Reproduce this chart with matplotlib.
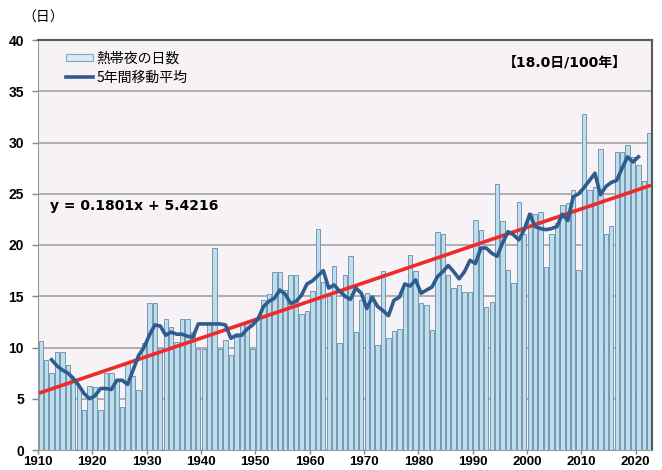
import matplotlib
matplotlib.use("Agg")
import matplotlib.pyplot as plt
import numpy as np
from matplotlib.patches import Patch
from matplotlib.lines import Line2D

years = list(range(1910, 2023))
nights = [10.6, 8.8, 7.5, 9.6, 9.6, 8.3, 6.9, 6.1, 3.9, 6.2,
          6.1, 3.9, 7.5, 7.5, 6.9, 4.2, 8.5, 7.2, 5.9, 10.4,
          14.3, 14.3, 10.0, 12.8, 12.0, 10.5, 12.8, 12.8, 11.5, 9.9,
          9.9, 12.4, 19.7, 9.9, 10.7, 9.3, 11.0, 12.3, 12.5, 9.9,
          12.7, 14.6, 15.2, 17.4, 17.4, 15.6, 17.1, 17.1, 13.3, 13.6,
          15.5, 21.6, 16.4, 15.0, 18.0, 10.4, 17.1, 18.9, 11.5, 14.6,
          15.3, 15.1, 10.2, 17.5, 10.9, 11.6, 11.8, 16.2, 19.0, 17.5,
          14.3, 14.1, 11.7, 21.3, 21.1, 17.1, 15.8, 16.1, 15.4, 15.4,
          22.4, 21.5, 14.0, 14.4, 26.0, 22.3, 17.6, 16.3, 24.2, 21.1,
          23.1, 23.0, 23.2, 17.9, 21.1, 22.1, 23.9, 24.1, 25.4, 17.6,
          32.8, 25.4, 25.7, 29.4, 21.1, 21.9, 29.1, 29.1, 29.8, 28.6,
          27.8, 26.2, 30.9]

ma_years = list(range(1912, 2021))
ma_values = [8.8, 8.2, 7.8, 7.5, 7.0, 6.3, 5.5, 5.0,
             5.3, 6.0, 6.0, 5.9, 6.8, 6.8, 6.4, 7.8, 9.2, 10.0,
             11.2, 12.2, 12.1, 11.2, 11.5, 11.3, 11.3, 11.1, 11.0, 12.3,
             12.3, 12.3, 12.3, 12.3, 12.2, 10.9, 11.2, 11.2, 11.8, 12.2,
             12.8, 14.0, 14.5, 14.8, 15.6, 15.2, 14.3, 14.5, 15.1, 16.2,
             16.5, 17.0, 17.5, 15.8, 16.1, 15.5, 15.0, 14.7, 15.8, 15.3,
             13.8, 14.9, 14.0, 13.6, 13.1, 14.6, 14.9, 16.2, 16.0, 16.6,
             15.3, 15.6, 15.9, 16.9, 17.4, 18.0, 17.4, 16.7, 17.4, 18.5,
             18.2, 19.7, 19.7, 19.2, 18.9, 20.2, 21.3, 21.0, 20.5, 21.5,
             23.0, 21.8, 21.6, 21.5, 21.6, 21.8, 23.0, 22.4, 24.7, 25.0,
             25.6, 26.3, 27.0, 24.9, 25.7, 26.1, 26.3, 27.5, 28.6, 28.1,
             28.6]

trend_slope = 0.1801
trend_intercept = 5.4216
trend_label = "y = 0.1801x + 5.4216"
rate_label = "【18.0日/100年】"
bar_label = "熱帯夜の日数"
ma_label = "5年間移動平均"
unit_label = "（日）"
xticks = list(range(1910, 2021, 10))
yticks = list(range(0, 41, 5))

assert len(nights) == len(years)
assert len(ma_values) == len(ma_years)

plt.rcParams['font.family'] = ['Liberation Sans', 'Noto Sans CJK JP', 'DejaVu Sans']

fig = plt.figure(figsize=(6.62, 4.70), dpi=100)
ax = fig.add_axes([38/662, 20/470, (652-38)/662, 410/470])
ax.set_facecolor('#f6f2f6')

xs = np.array(years) + 0.5
ax.bar(xs, nights, width=0.8, color='#bcdeef', edgecolor='#7898b0',
       linewidth=0.7, zorder=2)

ax.plot(np.array(ma_years) + 0.5, ma_values, color='#2f5b8e', lw=2.6,
        zorder=4, solid_joinstyle='round')

tx = np.array([years[0], years[-1]])
tt = trend_slope * (tx - years[0] + 1) + trend_intercept
ax.plot(tx + 0.5, tt, color='#ee2a2a', lw=2.6, zorder=3)

ax.set_xlim(1910, 2023)
ax.set_ylim(0, 40)
ax.set_yticks(yticks)
ax.set_xticks(xticks)
ax.grid(axis='y', color='#a8a8a8', lw=1.3, zorder=1)
ax.set_axisbelow(True)

for lab in ax.get_yticklabels():
    lab.set_fontweight('bold')
    lab.set_fontsize(10)
for lab in ax.get_xticklabels():
    lab.set_fontweight('bold')
    lab.set_fontsize(9.5)
ax.tick_params(axis='both', colors='#888888', labelcolor='black', length=4, width=1)
ax.tick_params(axis='y', pad=6)
ax.tick_params(axis='x', pad=1.5, length=3)

ax.spines['top'].set_color('#5a5a5a')
ax.spines['right'].set_color('#5a5a5a')
ax.spines['top'].set_linewidth(1.5)
ax.spines['right'].set_linewidth(1.5)
ax.spines['left'].set_color('#999999')
ax.spines['bottom'].set_color('#999999')

fig.text(22/662, 1 - 18/470, unit_label, fontsize=10, va='center', ha='left',
         family=['Noto Sans CJK JP'])

handles = [Patch(facecolor='#d6ecf6', edgecolor='#8aa5b8', lw=0.8),
           Line2D([0], [0], color='#2f5b8e', lw=2.6)]
leg = ax.legend(handles, [bar_label, ma_label], loc='upper left',
                bbox_to_anchor=(22/614, 1 - 6/410), frameon=False,
                prop={'family': 'Noto Sans CJK JP', 'size': 10},
                handlelength=2.0, handleheight=0.45, handletextpad=0.2,
                labelspacing=0.35, borderaxespad=0)

ax.text(565/662, 1 - 63/470, rate_label, transform=fig.transFigure,
        fontsize=10, fontweight='bold', ha='center', va='center',
        family=['DejaVu Sans', 'Noto Sans CJK JP'])
ax.text(50/662, 1 - 206/470, trend_label, transform=fig.transFigure,
        fontsize=10, fontweight='bold', ha='left', va='center',
        family=['DejaVu Sans'])

fig.savefig('out.png', dpi=100)
